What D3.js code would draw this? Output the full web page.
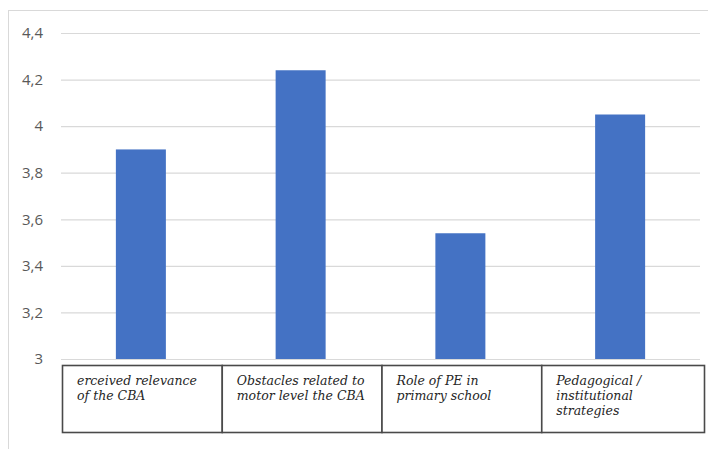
<!DOCTYPE html>
<html lang="en">
<head>
<meta charset="UTF-8">
<title>Bar chart</title>
<style>
    body { margin: 0; background: #fff; }
    svg { display: block; }
    .tick text { font-family: "Open Sans", sans-serif; font-size: 15px; fill: #595959; }
    .cat { font-family: "DejaVu Serif", serif; font-style: italic; font-size: 12.5px; fill: #262626; }
</style>
</head>
<body>
<svg id="chart" width="708" height="449"></svg>
<script src="https://d3js.org/d3.v7.min.js"></script>
<script>
    // data
    const categories = [
        ["erceived relevance", "of the CBA"],
        ["Obstacles related to", "motor level the CBA"],
        ["Role of PE in", "primary school"],
        ["Pedagogical /", "institutional", "strategies"]
    ];
    const values = [3.9, 4.24, 3.54, 4.05];
    const yTicks = [3, 3.2, 3.4, 3.6, 3.8, 4, 4.2, 4.4];

    const svg = d3.select("#chart");

    // outer frame
    svg.append("rect")
        .attr("x", 8.5).attr("y", 10.5)
        .attr("width", 720).attr("height", 460)
        .attr("fill", "none").attr("stroke", "#d9d9d9");

    const plotLeft = 61, plotRight = 700, plotTop = 33, plotBottom = 359;

    const x = d3.scaleBand()
        .domain(d3.range(values.length))
        .range([plotLeft, plotRight])
        .paddingInner(0.687)
        .paddingOuter(0.3435);

    const y = d3.scaleLinear().domain([3, 4.4]).range([plotBottom, plotTop]);

    // gridlines + labels
    const yAxis = d3.axisLeft(y)
        .tickValues(yTicks)
        .tickSize(-(plotRight - plotLeft))
        .tickPadding(18)
        .tickFormat(d => d3.format(".1~f")(d).replace(".", ","));

    svg.append("g")
        .attr("transform", `translate(${plotLeft},0)`)
        .call(yAxis)
        .call(g => g.select(".domain").remove())
        .call(g => g.selectAll(".tick line").attr("stroke", "#d9d9d9").attr("stroke-width", 1.2));

    // bars
    svg.append("g").selectAll("rect")
        .data(values)
        .join("rect")
        .attr("x", (d, i) => x(i))
        .attr("y", d => y(d))
        .attr("width", x.bandwidth())
        .attr("height", d => y(3) - y(d))
        .attr("fill", "#4472c4");

    // category label table
    const step = x.step();
    const boxTop = 365, boxBottom = 432;
    const cells = svg.append("g").selectAll("g")
        .data(categories)
        .join("g")
        .attr("transform", (d, i) => `translate(${plotLeft + 1 + i * step},0)`);

    cells.append("rect")
        .attr("x", 0.5)
        .attr("y", boxTop + 0.5)
        .attr("width", (d, i) => i === categories.length - 1 ? step + 3 : step)
        .attr("height", boxBottom - boxTop)
        .attr("fill", "#fff")
        .attr("stroke", "#4a4a4a")
        .attr("stroke-width", 1.6);

    cells.append("text")
        .attr("class", "cat")
        .selectAll("tspan")
        .data(d => d)
        .join("tspan")
        .attr("x", 15)
        .attr("y", (d, i) => 385 + i * 15)
        .text(d => d);
</script>
</body>
</html>
